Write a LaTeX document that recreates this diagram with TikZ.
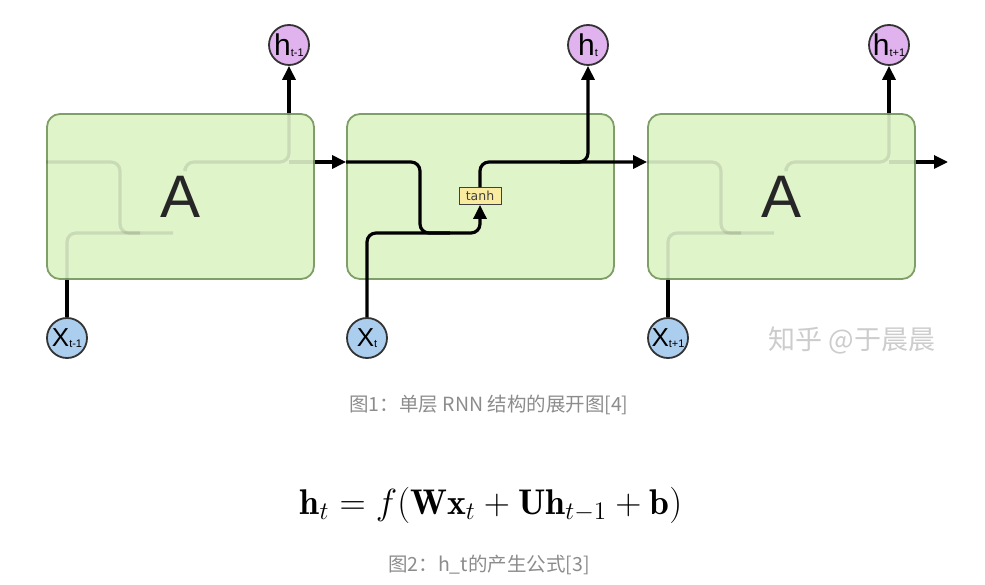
\documentclass[tikz,border=0pt]{standalone}
\usepackage{amsmath}
\usepackage{graphicx}
\usepackage{fontspec}
\usepackage{tikz}
\usetikzlibrary{arrows.meta}
\newfontfamily\labelfont{Liberation Sans}
\newfontfamily\gatefont{DejaVu Sans}
\newfontfamily\cjkfont{Noto Sans CJK SC}
\definecolor{cellgreen}{RGB}{221,243,198}
\definecolor{celledge}{RGB}{128,158,104}
\definecolor{hpurple}{RGB}{224,178,238}
\definecolor{xblue}{RGB}{172,206,238}
\definecolor{tanhyellow}{RGB}{249,236,160}
\definecolor{capgray}{RGB}{140,140,140}

\begin{document}
\begin{tikzpicture}[x=1pt, y=-1pt, >={Triangle[length=14pt,width=13pt]},
  cell/.style={draw=celledge, line width=1.8pt, fill=cellgreen, rounded corners=13pt,
    minimum width=267pt, minimum height=165pt, fill opacity=0.92, text opacity=1,
    font=\labelfont\fontsize{60}{60}\selectfont, text=black!85},
  hstate/.style={circle, draw=black!80, line width=1.8pt, fill=hpurple, minimum size=40pt, inner sep=0pt},
  xinput/.style={hstate, fill=xblue},
  wire/.style={line width=3.2pt, rounded corners=9pt},
  ghost/.style={wire, draw opacity=0.1},
  gate/.style={draw=black!75, line width=0.9pt, fill=tanhyellow, minimum width=42pt, minimum height=17pt,
    inner sep=0pt, font=\gatefont\fontsize{12.5}{12.5}\selectfont, text=black!75},
  caption/.style={text=capgray, font=\cjkfont\fontsize{19.5}{20}\selectfont}]
  \useasboundingbox (0,0) rectangle (985,585);

  % rails
  \coordinate (rail) at (0,162);
  \coordinate (lowrail) at (0,233);
  \coordinate (out) at (948,162);

  % cells
  \node[cell] (cell1) at (180.5,196.5) {\raisebox{-4pt}{A}};
  \node[cell] (cell2) at (480.5,196.5) {};
  \node[cell] (cell3) at (781.5,196.5) {\raisebox{-4pt}{A}};
  \node[gate] (tanh) at (480,196) {tanh};

  % states
  \node[hstate] (h1) at (289,45) {\labelfont\fontsize{30}{30}\selectfont h\raisebox{-1pt}{\fontsize{11}{11}\selectfont t-1}};
  \node[hstate] (h2) at (588,45) {\labelfont\fontsize{30}{30}\selectfont h\raisebox{-1pt}{\fontsize{11}{11}\selectfont t}};
  \node[hstate] (h3) at (889,45) {\labelfont\fontsize{30}{30}\selectfont h\raisebox{-1pt}{\fontsize{11}{11}\selectfont t+1}};
  \node[xinput] (x1) at (67,338) {\labelfont\fontsize{26}{26}\selectfont X\raisebox{-1pt}{\fontsize{11}{11}\selectfont t-1}};
  \node[xinput] (x2) at (367,338) {\labelfont\fontsize{26}{26}\selectfont X\raisebox{-1pt}{\fontsize{11}{11}\selectfont t}};
  \node[xinput] (x3) at (668,338) {\labelfont\fontsize{26}{26}\selectfont X\raisebox{-1pt}{\fontsize{11}{11}\selectfont t+1}};

  % faint inner wiring of the outer cells
  \draw[ghost] (cell1.west |- rail) -- (120,162) -- (120,233) -- (140,233);
  \draw[ghost] (x1.north |- cell1.south) -- (x1.north |- lowrail) -- (173,233);
  \draw[ghost] (185,168) -- (185,162) -- (h1.south |- rail) -- (h1.south |- cell1.north);
  \draw[ghost] (h1.south |- rail) -- (cell1.east |- rail);
  \draw[ghost] (cell3.west |- rail) -- (721,162) -- (721,233) -- (741,233);
  \draw[ghost] (x3.north |- cell3.south) -- (x3.north |- lowrail) -- (774,233);
  \draw[ghost] (786,168) -- (786,162) -- (h3.south |- rail) -- (h3.south |- cell3.north);
  \draw[ghost] (h3.south |- rail) -- (cell3.east |- rail);

  % connectors outside the cells
  \draw[wire] (x1.north) -- (x1.north |- cell1.south);
  \draw[wire] (x3.north) -- (x3.north |- cell3.south);
  \draw[wire,->] (h1.south |- cell1.north) -- (h1.south);
  \draw[wire,->] (h3.south |- cell3.north) -- (h3.south);
  \draw[wire,->] (cell1.east |- rail) -- (cell2.west |- rail);
  \draw[wire,->] (cell3.east |- rail) -- (out);

  % middle cell
  \draw[wire] (cell2.west |- rail) -- (420,162) -- (420,233) -- (450,233);
  \draw[wire,->] (x2.north) -- (x2.north |- lowrail) -- (tanh.south |- lowrail) -- (tanh.south);
  \draw[wire,->] (tanh.north) -- (tanh.north |- rail) -- (cell3.west |- rail);
  \draw[wire,->] (560,162) -- (h2.south |- rail) -- (h2.south);

  % watermark and captions
  \node[text=black!20, font=\cjkfont\fontsize{27}{27}\selectfont] (mark) at (852,340) {知乎 @于晨晨};
  \node[caption] (cap1) at (489,405) {图1：单层 RNN 结构的展开图[4]};
  \node (eq) at (491,505)
    {\scalebox{2.1}{\fontsize{17}{20}\selectfont$\mathbf{h}_t=f(\mathbf{W}\mathbf{x}_t+\mathbf{U}\mathbf{h}_{t-1}+\mathbf{b})$}};
  \node[caption] (cap2) at (489,565) {图2：h\_t的产生公式[3]};
\end{tikzpicture}
\end{document}
